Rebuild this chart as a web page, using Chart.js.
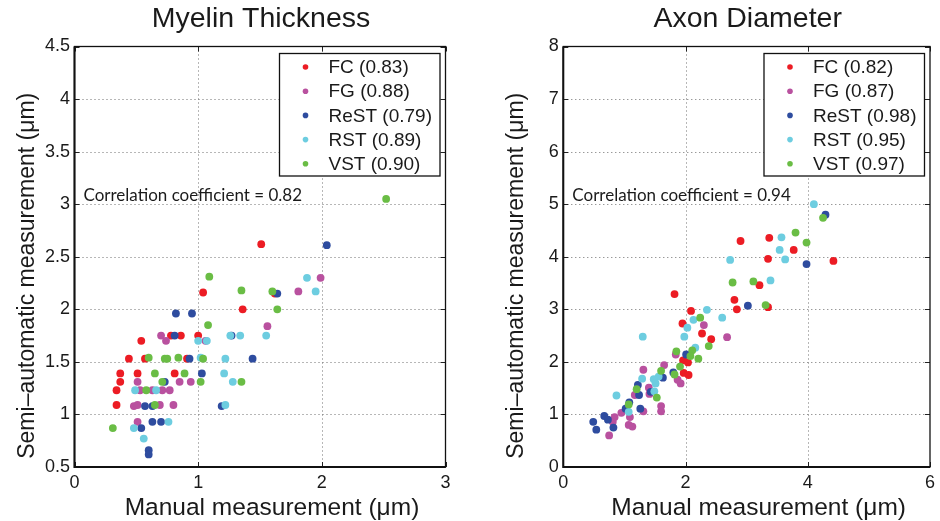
<!DOCTYPE html>
<html><head><meta charset="utf-8">
<script src="https://cdn.jsdelivr.net/npm/chart.js@4/dist/chart.umd.min.js"></script>
<style>
html,body{margin:0;padding:0;background:#fff;}
#wrap{position:relative;width:940px;height:521px;overflow:hidden;}
.c{position:absolute;top:0;width:470px;height:521px;}
</style></head><body>
<div id="wrap">
<div class="c" style="left:0"><canvas id="c1" width="470" height="521"></canvas></div>
<div class="c" style="left:470px"><canvas id="c2" width="470" height="521"></canvas></div>
</div>
<script>
// ---------- data ----------
const seriesNames = ['FC', 'FG', 'ReST', 'RST', 'VST'];
const myelinCorr = ['0.83', '0.88', '0.79', '0.89', '0.90'];
const axonCorr = ['0.82', '0.87', '0.98', '0.95', '0.97'];
const myelinOverall = '0.82';
const axonOverall = '0.94';
const xAxisTitle = 'Manual measurement (μm)';
const yAxisTitle = 'Semi–automatic measurement (μm)';
const myelinXTicks = [0, 1, 2, 3];
const myelinYTicks = [0.5, 1, 1.5, 2, 2.5, 3, 3.5, 4, 4.5];
const axonXTicks = [0, 2, 4, 6];
const axonYTicks = [0, 1, 2, 3, 4, 5, 6, 7, 8];

const myelinFC = [[0.34,1.09],[0.34,1.23],[0.37,1.31],[0.37,1.39],[0.44,1.53],[0.51,1.39],[0.54,1.70],[0.57,1.53],[0.78,1.75],[0.81,1.39],[0.86,1.75],[0.91,1.53],[1.00,1.75],[1.04,2.16],[1.36,2.00],[1.51,2.62],[1.62,2.15]];
const myelinFG = [[0.48,1.08],[0.51,1.09],[0.51,0.93],[0.51,1.31],[0.53,1.23],[0.63,1.23],[0.69,1.09],[0.70,1.75],[0.71,1.23],[0.74,1.70],[0.77,1.23],[0.80,1.09],[0.85,1.31],[0.94,1.31],[1.06,1.70],[1.56,1.84],[1.81,2.17],[1.99,2.30]];
const myelinReST = [[0.54,0.87],[0.57,1.08],[0.60,0.66],[0.60,0.62],[0.63,0.93],[0.63,1.08],[0.70,0.93],[0.73,1.31],[0.81,1.75],[0.82,1.96],[0.93,1.53],[0.95,1.96],[1.03,1.39],[1.19,1.08],[1.27,1.75],[1.44,1.53],[1.64,2.15],[2.04,2.61]];
const myelinRST = [[0.48,0.87],[0.49,1.23],[0.56,0.77],[0.66,1.23],[0.76,0.93],[1.00,1.70],[1.02,1.54],[1.07,1.70],[1.21,1.39],[1.22,1.53],[1.22,1.09],[1.26,1.75],[1.28,1.31],[1.34,1.75],[1.55,1.75],[1.88,2.30],[1.95,2.17]];
const myelinVST = [[0.31,0.87],[0.58,1.23],[0.60,1.54],[0.65,1.39],[0.65,1.09],[0.71,1.31],[0.73,1.53],[0.75,1.53],[0.84,1.54],[0.89,1.39],[1.02,1.31],[1.04,1.53],[1.08,1.85],[1.09,2.31],[1.35,2.18],[1.35,1.31],[1.60,2.17],[1.64,2.00],[2.52,3.05]];

const axonFC = [[1.82,3.29],[2.80,3.18],[2.84,3.00],[2.09,2.97],[1.95,2.73],[2.27,2.54],[2.42,2.43],[1.96,2.03],[2.04,1.99],[1.97,1.79],[2.05,1.75],[2.90,4.30],[3.37,4.36],[3.77,4.13],[3.35,3.96],[4.42,3.92],[3.21,3.46],[3.35,3.04]];
const axonFG = [[2.30,2.70],[2.68,2.47],[1.84,2.14],[1.65,1.94],[1.87,1.66],[1.92,1.59],[1.31,1.85],[1.40,1.51],[1.41,1.39],[1.17,1.37],[0.95,1.03],[1.31,1.06],[1.60,1.16],[1.60,1.06],[0.84,0.95],[0.81,0.86],[1.09,0.95],[1.07,0.80],[1.13,0.77],[0.75,0.60]];
const axonReST = [[4.29,4.80],[3.98,3.86],[3.02,3.07],[2.01,2.14],[1.80,1.80],[1.63,1.70],[1.22,1.56],[1.24,1.37],[1.43,1.43],[1.08,1.23],[1.02,1.11],[1.26,1.11],[0.67,0.97],[0.73,0.90],[0.49,0.86],[0.82,0.75],[0.54,0.71]];
const axonRST = [[4.10,5.00],[3.57,4.37],[3.54,4.13],[3.63,3.95],[3.39,3.55],[2.73,3.94],[2.35,2.99],[2.13,2.80],[2.60,2.84],[2.03,2.65],[1.98,2.48],[1.30,2.48],[2.16,2.27],[1.56,1.72],[1.29,1.68],[1.48,1.67],[1.51,1.59],[1.49,1.44],[0.87,1.36],[1.07,1.05]];
const axonVST = [[4.25,4.74],[3.80,4.46],[3.98,4.27],[3.11,3.53],[2.77,3.51],[3.31,3.08],[2.24,2.84],[2.38,2.30],[1.85,2.20],[2.11,2.22],[2.08,2.11],[2.21,2.06],[1.91,1.91],[1.82,1.76],[1.60,1.83],[1.20,1.48],[1.53,1.32],[1.07,1.19]];

// ---------- styles ----------
const colors = ['#ec1c24', '#b9519f', '#2e4c9f', '#6dcde0', '#6abd45'];
const FONT = "'Liberation Sans', Arial, Helvetica, sans-serif";
const TXT = '#1a1a1a';
Chart.defaults.font.family = FONT;
Chart.defaults.color = TXT;

const decorPlugin = {
  id: 'decor',
  beforeDatasetsDraw(chart) {
    const {ctx, chartArea: a, scales: {x, y}} = chart;
    ctx.save();
    ctx.strokeStyle = '#6e6e6e';
    ctx.lineWidth = 1;
    ctx.setLineDash([1, 3]);
    x.ticks.forEach(t => {
      const px = Math.round(x.getPixelForValue(t.value)) + 0.5;
      if (px <= a.left + 2 || px >= a.right - 2) return;
      ctx.beginPath(); ctx.moveTo(px, a.top); ctx.lineTo(px, a.bottom); ctx.stroke();
    });
    y.ticks.forEach(t => {
      const py = Math.round(y.getPixelForValue(t.value)) + 0.5;
      if (py <= a.top + 2 || py >= a.bottom - 2) return;
      ctx.beginPath(); ctx.moveTo(a.left, py); ctx.lineTo(a.right, py); ctx.stroke();
    });
    ctx.restore();
  },
  afterDatasetsDraw(chart) {
    const o = chart.options.plugins.decor;
    const {ctx, chartArea: a, scales: {x, y}} = chart;
    ctx.save();
    // inward tick marks
    ctx.strokeStyle = '#222';
    ctx.lineWidth = 1;
    const TL = 5;
    x.ticks.forEach(t => {
      const px = Math.round(x.getPixelForValue(t.value)) + 0.5;
      ctx.beginPath(); ctx.moveTo(px, a.bottom); ctx.lineTo(px, a.bottom - TL);
      ctx.moveTo(px, a.top); ctx.lineTo(px, a.top + TL); ctx.stroke();
    });
    y.ticks.forEach(t => {
      const py = Math.round(y.getPixelForValue(t.value)) + 0.5;
      ctx.beginPath(); ctx.moveTo(a.left, py); ctx.lineTo(a.left + TL, py);
      ctx.moveTo(a.right, py); ctx.lineTo(a.right - TL, py); ctx.stroke();
    });
    // frame
    ctx.strokeStyle = '#111';
    ctx.lineWidth = 1.3;
    ctx.strokeRect(a.left, a.top, a.right - a.left, a.bottom - a.top);
    ctx.lineWidth = 2;
    ctx.beginPath(); ctx.moveTo(a.left, a.top); ctx.lineTo(a.left, a.bottom); ctx.lineTo(a.right, a.bottom); ctx.stroke();

    // legend
    const bx = a.right - 166, by = a.top + 7, bw = 160.5, bh = 122.5;
    ctx.fillStyle = '#fff';
    ctx.fillRect(bx, by, bw, bh);
    ctx.strokeStyle = '#111';
    ctx.lineWidth = 1.3;
    ctx.strokeRect(bx, by, bw, bh);
    ctx.font = '19px ' + FONT;
    ctx.textBaseline = 'middle';
    ctx.textAlign = 'left';
    chart.data.datasets.forEach((ds, i) => {
      const cy = by + 13.5 + i * 24.2;
      ctx.fillStyle = ds.backgroundColor;
      ctx.beginPath(); ctx.arc(bx + 26, cy, 2.8, 0, Math.PI * 2); ctx.fill();
      ctx.fillStyle = TXT;
      ctx.fillText(ds.label, bx + 49, cy + 1);
    });

    // correlation text
    ctx.font = '17px Lato, "Open Sans", sans-serif';
    ctx.textBaseline = 'alphabetic';
    ctx.fillStyle = TXT;
    ctx.fillText('Correlation coefficient = ' + o.overall, a.left + 9, a.top + 154);

    // title
    ctx.font = '28.5px ' + FONT;
    ctx.textAlign = 'center';
    ctx.textBaseline = 'middle';
    ctx.fillText(o.title, (a.left + a.right) / 2 + 1, 19);

    // axis titles
    ctx.font = '24.5px ' + FONT;
    ctx.fillText(xAxisTitle, (a.left + a.right) / 2 + 12, 508);
    ctx.translate(a.left - 46.5, (a.top + a.bottom) / 2 + 19);
    ctx.rotate(-Math.PI / 2);
    ctx.font = '23px ' + FONT;
    ctx.fillText(yAxisTitle, 0, 0);
    ctx.restore();
  }
};

function makeChart(id, cfg) {
  const datasets = cfg.series.map((pts, i) => ({
    label: seriesNames[i] + ' (' + cfg.corr[i] + ')',
    data: pts.map(p => ({x: p[0], y: p[1]})),
    backgroundColor: colors[i],
    borderColor: colors[i],
    borderWidth: 0,
    pointRadius: 3.9,
    pointHoverRadius: 3.9,
    order: cfg.series.length - i
  }));
  const tickFont = {size: 18, family: FONT};
  return new Chart(document.getElementById(id), {
    type: 'scatter',
    data: {datasets},
    plugins: [decorPlugin],
    options: {
      responsive: false,
      animation: false,
      devicePixelRatio: 1,
      layout: {autoPadding: false, padding: cfg.padding},
      plugins: {
        legend: {display: false},
        tooltip: {enabled: false},
        title: {display: false},
        decor: {title: cfg.title, overall: cfg.overall}
      },
      scales: {
        x: {
          type: 'linear', min: cfg.xTicks[0], max: cfg.xTicks[cfg.xTicks.length - 1],
          afterBuildTicks: s => { s.ticks = cfg.xTicks.map(v => ({value: v})); },
          afterFit: s => { s.height = 54; },
          grid: {display: false, drawTicks: false},
          border: {display: false},
          ticks: {font: tickFont, color: TXT, padding: 5, maxRotation: 0, autoSkip: false, callback: v => String(v)},
          title: {display: false}
        },
        y: {
          type: 'linear', min: cfg.yTicks[0], max: cfg.yTicks[cfg.yTicks.length - 1],
          afterBuildTicks: s => { s.ticks = cfg.yTicks.map(v => ({value: v})); },
          afterFit: s => { s.width = 74.5; },
          grid: {display: false, drawTicks: false},
          border: {display: false},
          ticks: {font: tickFont, color: TXT, padding: 4.5, autoSkip: false, callback: v => String(v)},
          title: {display: false}
        }
      }
    }
  });
}

makeChart('c1', {
  series: [myelinFC, myelinFG, myelinReST, myelinRST, myelinVST],
  corr: myelinCorr, overall: myelinOverall, title: 'Myelin Thickness',
  xTicks: myelinXTicks, yTicks: myelinYTicks,
  padding: {left: 0, right: 24.5, top: 46.5, bottom: 0}
});
makeChart('c2', {
  series: [axonFC, axonFG, axonReST, axonRST, axonVST],
  corr: axonCorr, overall: axonOverall, title: 'Axon Diameter',
  xTicks: axonXTicks, yTicks: axonYTicks,
  padding: {left: 18.8, right: 6.7, top: 46.5, bottom: 0}
});
</script>
</body></html>
